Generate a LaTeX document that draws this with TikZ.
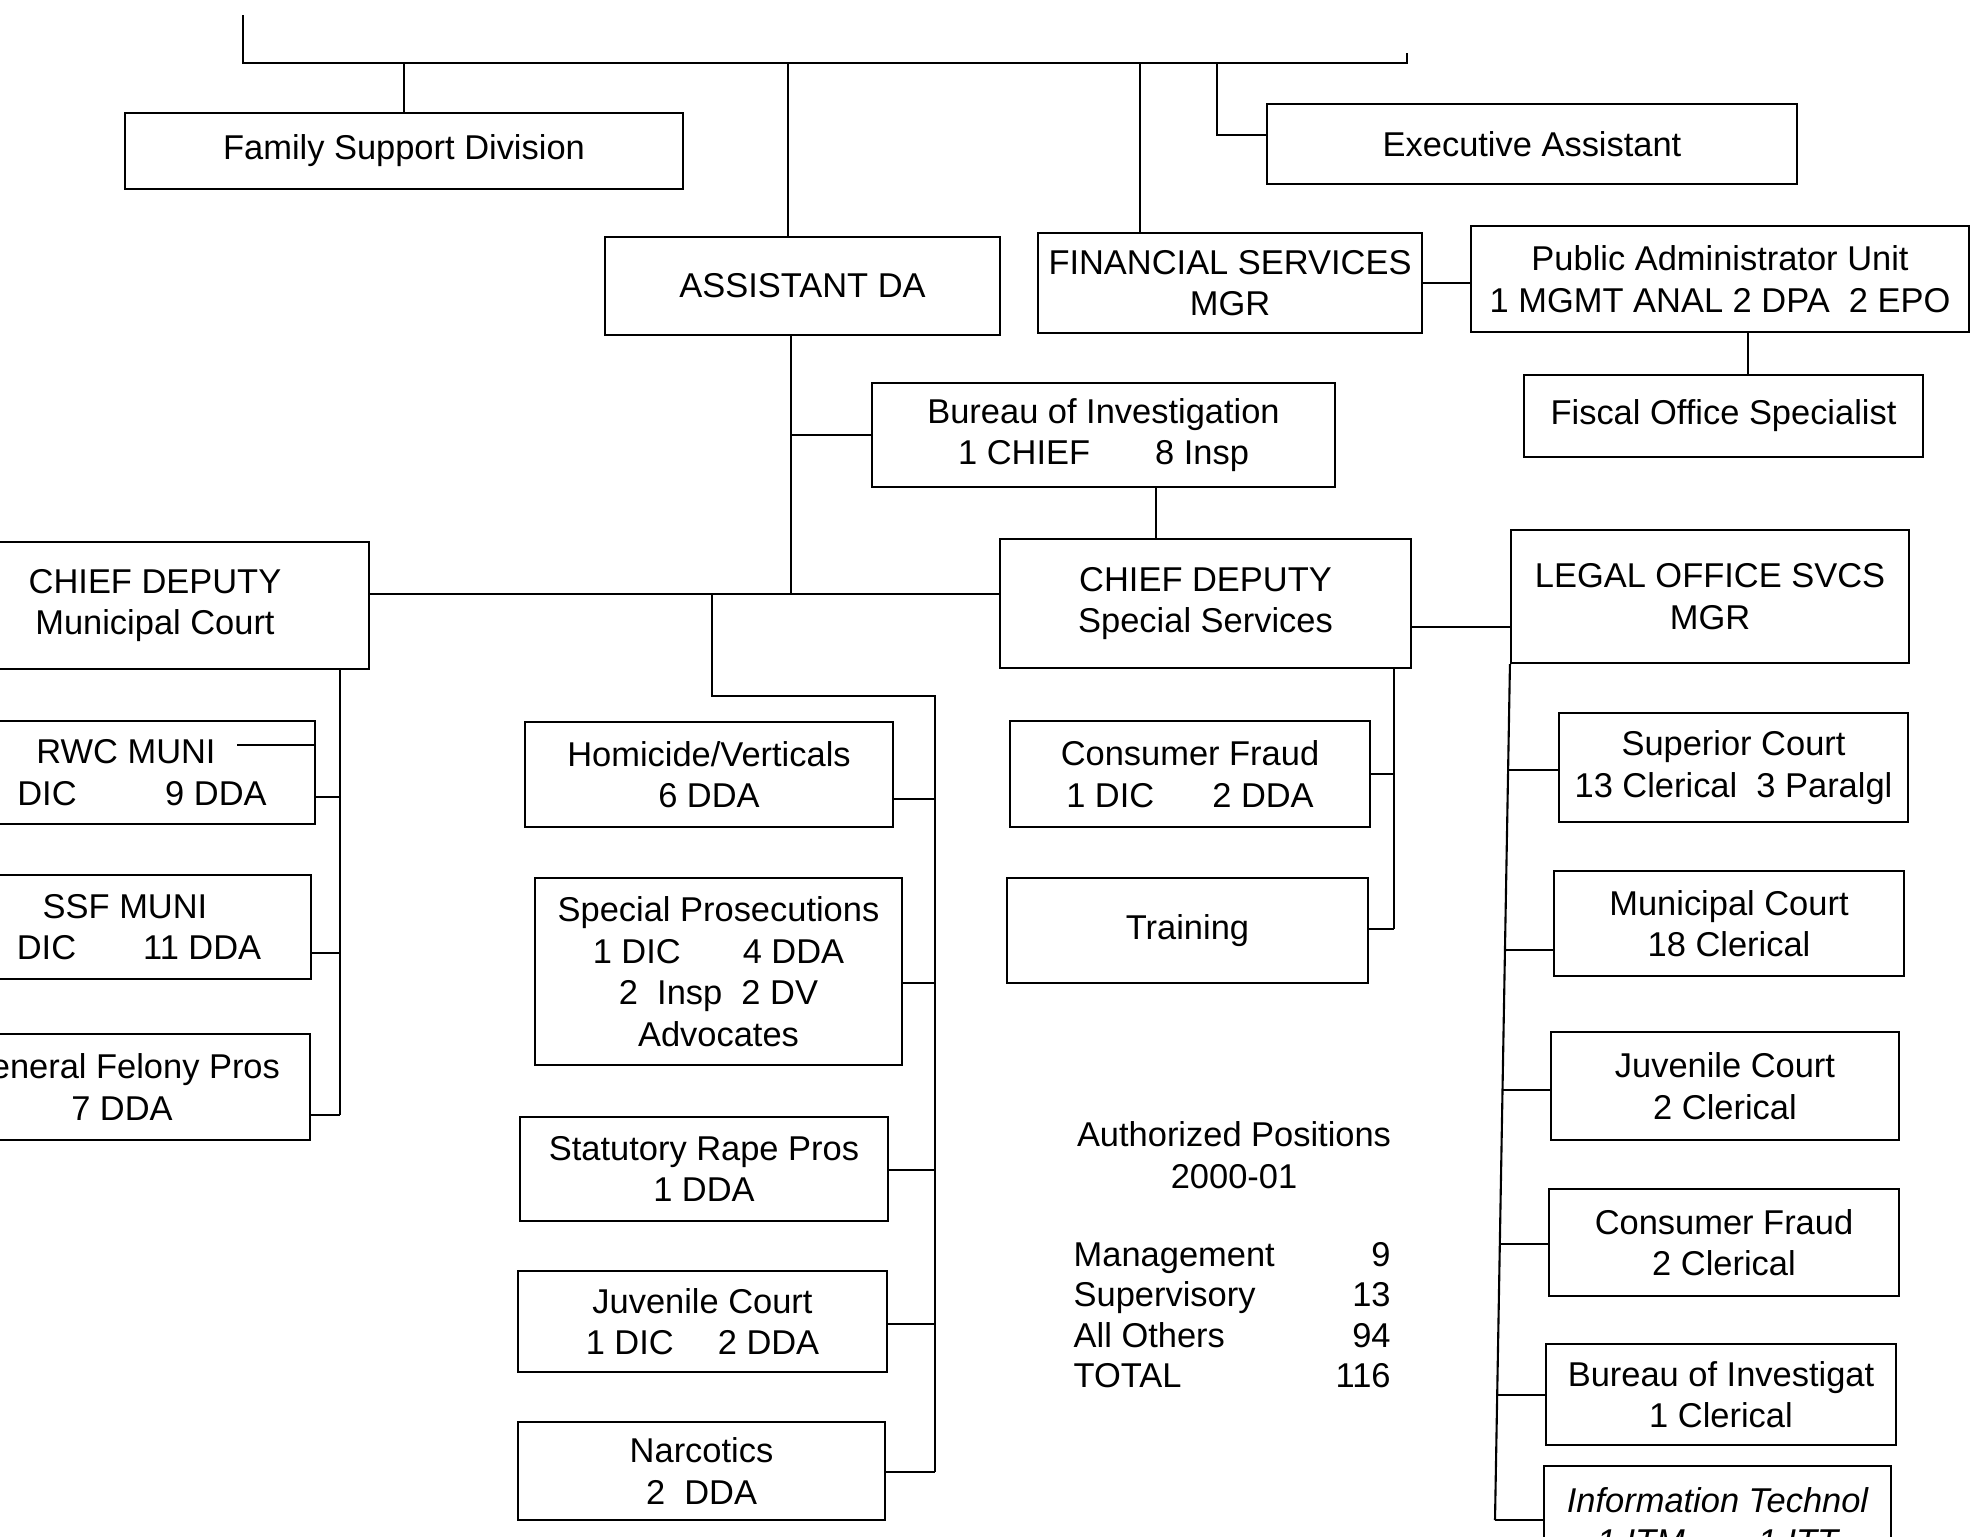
\documentclass[tikz,border=0pt]{standalone}
\usepackage{fontspec}
\setmainfont{Liberation Sans}
\begin{document}
\begin{tikzpicture}[x=0.1mm,y=-0.1mm,
  box/.style={draw, line width=0.6pt, inner sep=0pt, align=center, font=\fontsize{9.8}{11.8}\selectfont},
  bx/.style args={#1,#2,#3,#4}{at={({(#1+#3)/2},{(#2+#4)/2})},
     minimum width={(#3-#1)*0.1mm}, minimum height={(#4-#2)*0.1mm}},
  ln/.style={line width=0.6pt},
  txt/.style={inner sep=0pt, align=center, font=\fontsize{9.8}{11.8}\selectfont}]
\fill[white] (0,0) rectangle (1973,1536);
\useasboundingbox (0,0) rectangle (1973,1536);

% ---------- boxes ----------
\node[box, bx={125,113,683,189}] (fsd) {Family Support Division};
\node[box, bx={605,237,1000,335}] (ada) {ASSISTANT DA};
\node[box, bx={1038,233,1422,333}] (fin) {FINANCIAL SERVICES\\MGR};
\node[box, bx={1471,226,1969,332}] (pau) {Public Administrator Unit\\1 MGMT ANAL 2 DPA~ 2 EPO};
\node[box, bx={1524,375,1923,457}] (fos) {Fiscal Office Specialist};
\node[box, bx={1267,104,1797,184}] (exa) {Executive Assistant};
\node[box, bx={872,383,1335,487}] (boi) {Bureau of Investigation\\1 CHIEF\hspace{6.5mm}8 Insp};
\node[box, bx={1000,539,1411,668}] (cdss) {CHIEF DEPUTY\\Special Services};
\node[box, bx={-59,542,369,669}] (cdmc) {CHIEF DEPUTY\\Municipal Court};

\node[box, bx={-63,721,315,824}] (rwc) {RWC MUNI\\\hspace*{3.2mm}DIC\hspace{8.85mm}9 DDA};
\node[box, bx={-61,875,311,979}] (ssf) {SSF MUNI\\\hspace*{2.8mm}DIC\hspace{6.7mm}11 DDA};
\node[box, bx={-66,1034,310,1140}] (gfp) {General Felony Pros\\7 DDA};

\node[box, bx={525,722,893,827}] (hom) {Homicide/Verticals\\6 DDA};
\node[box, bx={535,878,902,1065}] (spp) {Special Prosecutions\\1 DIC\hspace{6.2mm}4 DDA\\2~ Insp~ 2 DV\\Advocates};
\node[box, bx={520,1117,888,1221}] (srp) {Statutory Rape Pros\\1 DDA};
\node[box, bx={518,1271,887,1372}] (jvc) {Juvenile Court\\1 DIC\hspace{4.4mm}2 DDA};
\node[box, bx={518,1422,885,1520}] (nar) {Narcotics\\2~ DDA};

\node[box, bx={1010,721,1370,827}] (cfm) {Consumer Fraud\\1 DIC\hspace{5.8mm}2 DDA};
\node[box, bx={1007,878,1368,983}] (trn) {Training};

\node[box, bx={1511,530,1909,663}] (los) {LEGAL OFFICE SVCS\\MGR};
\node[box, bx={1559,713,1908,822}] (sup) {Superior Court\\13 Clerical~ 3 Paralgl};
\node[box, bx={1554,871,1904,976}] (mun) {Municipal Court\\18 Clerical};
\node[box, bx={1551,1032,1899,1140}] (juv) {Juvenile Court\\2 Clerical};
\node[box, bx={1549,1189,1899,1296}] (cfr) {Consumer Fraud\\2 Clerical};
\node[box, bx={1546,1344,1896,1445}] (bur) {Bureau of Investigat\\1 Clerical};
\node[box, bx={1544,1466,1891,1575}] (itn) {\itshape Information Technol\\\itshape 1 ITM\hspace{7.3mm}1 ITT};

% ---------- authorized positions ----------
\node[txt] (ap) at (1234,1155) {Authorized Positions\\2000-01};
\node[txt, anchor=west] (tot) at (1073,1319) {\def\arraystretch{0.97}%
\begin{tabular}{@{}p{26.2mm}@{}r@{}}
Management & 9\\
Supervisory & 13\\
All Others & 94\\
TOTAL & 116
\end{tabular}};

% ---------- connectors ----------
\coordinate (tl) at (243,15);
\coordinate (tc) at (243,63);
\coordinate (tr) at (1407,63);
\draw[ln] (tl) -- (tc) -- (tr) -- ++(0,-10);
\draw[ln] (fsd.north) -- (fsd.north |- tc);
\draw[ln] (ada.north -| 788,0) -- (788,63);
\draw[ln] (fin.north -| 1140,0) -- (1140,63);
\draw[ln] (1217,63) |- (exa.west |- 0,135);
\draw[ln] (fin.east) -- (pau.west |- fin.east);
\draw[ln] (pau.south -| 1748,0) -- (fos.north -| 1748,0);

% assistant DA spine
\coordinate (aj) at (791,594);
\draw[ln] (ada.south -| aj) -- (aj);
\draw[ln] (boi.west -| aj) -- (boi.west);
\draw[ln] (boi.south -| 1156,0) -- (cdss.north -| 1156,0);
\draw[ln] (cdmc.east |- aj) -- (cdss.west |- aj);

% middle column
\coordinate (mb) at (935,696);
\draw[ln] (712,594) |- (mb) -- (935,1472);
\draw[ln] (hom.east |- 0,799) -- (mb |- 0,799);
\draw[ln] (spp.east |- 0,983) -- (mb |- 0,983);
\draw[ln] (srp.east |- 0,1170) -- (mb |- 0,1170);
\draw[ln] (jvc.east |- 0,1324) -- (mb |- 0,1324);
\draw[ln] (nar.east |- 0,1472) -- (mb |- 0,1472);

% left column
\coordinate (lb) at (340,669);
\draw[ln] (lb) -- (340,1115);
\draw[ln] (rwc.east |- 0,797) -- (lb |- 0,797);
\draw[ln] (ssf.east |- 0,953) -- (lb |- 0,953);
\draw[ln] (gfp.east |- 0,1115) -- (lb |- 0,1115);
\draw[ln] (237,745) -- (rwc.east |- 0,745);

% special services column
\coordinate (sb) at (1394,668);
\draw[ln] (sb) -- (1394,929);
\draw[ln] (cfm.east |- 0,774) -- (sb |- 0,774);
\draw[ln] (trn.east |- 0,929) -- (sb |- 0,929);
\draw[ln] (cdss.east |- 0,627) -- (los.west |- 0,627);

% legal office column
\coordinate (rb) at (1495,1520);
\draw[ln] (los.south west) -- (rb);
\draw[ln] (1509,770) -- (sup.west |- 0,770);
\draw[ln] (1506,950) -- (mun.west |- 0,950);
\draw[ln] (1503,1090) -- (juv.west |- 0,1090);
\draw[ln] (1500,1244) -- (cfr.west |- 0,1244);
\draw[ln] (1497,1395) -- (bur.west |- 0,1395);
\draw[ln] (rb) -- (itn.west |- rb);
\end{tikzpicture}
\end{document}
